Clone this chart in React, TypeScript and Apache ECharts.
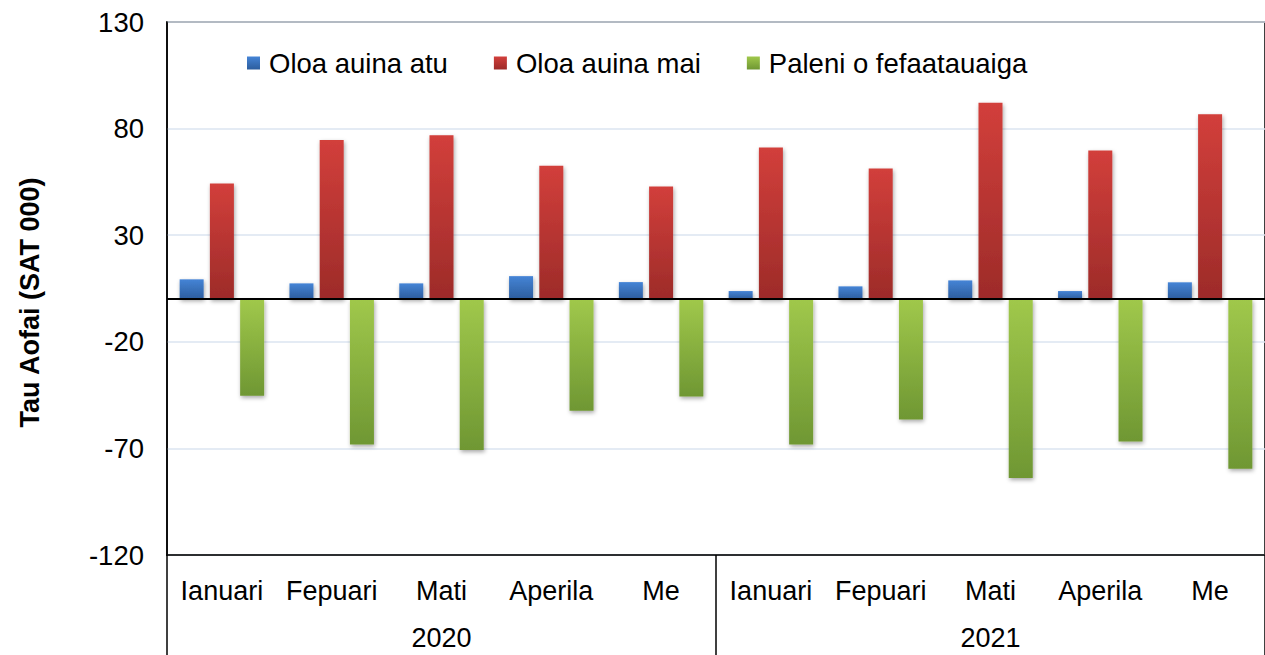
import React, { useEffect, useRef } from "react";
import * as echarts from "echarts";

const months = ["Ianuari", "Fepuari", "Mati", "Aperila", "Me", "Ianuari", "Fepuari", "Mati", "Aperila", "Me"];
const years = ["2020", "2021"];
const seriesNames = ["Oloa auina atu", "Oloa auina mai", "Paleni o fefaatauaiga"];
const exportsData = [9.3, 7.4, 7.4, 10.8, 8.0, 3.8, 6.0, 8.8, 3.8, 7.9];
const importsData = [54.2, 74.7, 76.9, 62.6, 52.9, 71.1, 61.3, 92.1, 69.7, 86.7];
const balanceData = [-45.3, -68.2, -70.7, -52.3, -45.7, -68.2, -56.5, -83.9, -66.8, -79.6];
const yTicks = { min: -120, max: 130, interval: 50 };

const FONT = 'Arial, "Liberation Sans", sans-serif';

function grad(top: string, bottom: string) {
  return new echarts.graphic.LinearGradient(0, 0, 0, 1, [
    { offset: 0, color: top },
    { offset: 1, color: bottom },
  ]);
}

export default function App() {
  const ref = useRef<HTMLDivElement>(null);
  useEffect(() => {
    if (!ref.current) return;
    const chart = echarts.init(ref.current, undefined, { renderer: "svg" });
    const barCommon = {
      type: "bar" as const,
      barWidth: 24,
      barGap: "26%",
    };
    const shadow = {
      shadowBlur: 4,
      shadowColor: "rgba(0,0,0,0.35)",
      shadowOffsetY: 2,
      shadowOffsetX: 1,
    };
    chart.setOption({
      animation: false,
      textStyle: { fontFamily: FONT },
      grid: {
        left: 167,
        right: -3,
        top: 22,
        bottom: 100,
        show: true,
        borderColor: "#000",
        borderWidth: 1.5,
        containLabel: false,
      },
      legend: {
        left: 242,
        top: 44,
        icon: "rect",
        itemWidth: 13,
        itemHeight: 13,
        itemGap: 46,
        textStyle: { fontSize: 27.5, color: "#000", fontFamily: FONT, padding: [0, 0, 0, 4] },
        data: seriesNames,
      },
      xAxis: [
        {
          type: "category",
          data: months,
          position: "bottom",
          axisLine: { onZero: false, show: true, lineStyle: { color: "#000", width: 1.5 } },
          axisTick: { show: false },
          axisLabel: { fontSize: 27, color: "#000", margin: 22, interval: 0, fontFamily: FONT },
          splitLine: { show: false },
        },
        {
          type: "category",
          data: years,
          position: "bottom",
          axisLine: { onZero: false, show: false },
          axisTick: { show: true, length: 100, lineStyle: { color: "#000", width: 1.5 } },
          axisLabel: { fontSize: 27, color: "#000", margin: 69, fontFamily: FONT },
          splitLine: { show: false },
        },
      ],
      yAxis: {
        type: "value",
        min: yTicks.min,
        max: yTicks.max,
        interval: yTicks.interval,
        name: "Tau Aofai (SAT 000)",
        nameLocation: "middle",
        nameGap: 124,
        nameTextStyle: { fontSize: 27, fontWeight: "bold", color: "#000", fontFamily: FONT, padding: [0, 0, 0, -28] },
        axisLine: { show: true, lineStyle: { color: "#000", width: 1.5 } },
        axisTick: { show: false },
        axisLabel: { fontSize: 27.5, color: "#000", margin: 23, fontFamily: FONT },
        splitLine: { show: true, lineStyle: { color: "#dbe5f1", width: 1.5 } },
      },
      series: [
        {
          ...barCommon,
          name: seriesNames[0],
          data: exportsData,
          itemStyle: { color: grad("#4584d6", "#2c5d9d"), ...shadow },
          markLine: {
            silent: true,
            symbol: "none",
            label: { show: false },
            lineStyle: { color: "#000", width: 2, type: "solid" },
            data: [{ yAxis: 0 }],
          },
        },
        {
          ...barCommon,
          name: seriesNames[1],
          data: importsData,
          itemStyle: { color: grad("#d23f3b", "#9d2b29"), ...shadow },
        },
        {
          ...barCommon,
          name: seriesNames[2],
          data: balanceData,
          itemStyle: { color: grad("#a0c84b", "#6f9733"), ...shadow },
        },
      ],
    });
    return () => chart.dispose();
  }, []);
  return (
    <div
      ref={ref}
      style={{ position: "fixed", left: 0, top: 0, width: 1265, height: 655, background: "#fff" }}
    />
  );
}
